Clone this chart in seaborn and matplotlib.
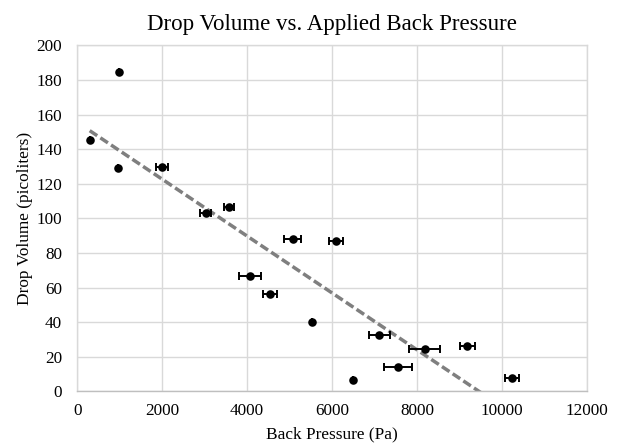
import numpy as np
import pandas as pd
import seaborn as sns
import matplotlib
matplotlib.use("Agg")
import matplotlib.pyplot as plt

# Data
back_pressure = [292, 974, 950, 2000, 3020, 3575, 4070, 4540, 5075, 5540,
                 6090, 6500, 7115, 7560, 8180, 9190, 10235]
drop_volume = [145.4, 184.6, 129.1, 129.8, 103.4, 106.6, 66.8, 56.1, 88.0, 39.9,
               86.9, 6.5, 32.5, 14.3, 24.8, 26.2, 7.9]
pressure_err = [0, 0, 0, 140, 140, 125, 250, 165, 205, 0,
                170, 0, 255, 325, 360, 175, 160]

df = pd.DataFrame({"pressure": back_pressure, "volume": drop_volume, "err": pressure_err})

sns.set_style("white")
plt.rcParams["font.family"] = ["Liberation Serif", "DejaVu Serif"]
plt.rcParams["text.color"] = "black"
plt.rcParams["axes.labelcolor"] = "black"

fig, ax = plt.subplots(figsize=(6.18, 4.46), dpi=100)
fig.subplots_adjust(left=0.1251, right=0.9494, top=0.8984, bottom=0.1222)

# Linear trendline (dashed gray)
sns.regplot(x="pressure", y="volume", data=df, scatter=False, ci=None, ax=ax,
            color="#7f7f7f", line_kws={"linestyle": (0, (2.6, 1.1)), "linewidth": 2.5})

# Horizontal error bars
ax.errorbar(df["pressure"], df["volume"], xerr=df["err"], fmt="none",
            ecolor="black", elinewidth=1.4, capsize=2.8, capthick=1.4, zorder=3)

# Points
sns.scatterplot(x="pressure", y="volume", data=df, ax=ax, color="black",
                s=38, edgecolor="black", linewidth=0, zorder=4)

ax.set_xlim(0, 12000)
ax.set_ylim(0, 200)
ax.set_xticks(np.arange(0, 12001, 2000))
ax.set_yticks(np.arange(0, 201, 20))

ax.grid(True, color="#d9d9d9", linewidth=1.0)
ax.set_axisbelow(True)
for side in ["top", "right", "left"]:
    ax.spines[side].set_color("#d9d9d9")
    ax.spines[side].set_linewidth(1.0)
ax.spines["bottom"].set_color("#bfbfbf")
ax.spines["bottom"].set_linewidth(1.0)

ax.tick_params(axis="both", length=0, labelsize=12.3, colors="black")
ax.tick_params(axis="x", pad=8)
ax.tick_params(axis="y", pad=11)

ax.set_title("Drop Volume vs. Applied Back Pressure", fontsize=16.5, pad=11, color="black")
ax.set_xlabel("Back Pressure (Pa)", fontsize=12.4, color="black")
ax.set_ylabel("Drop Volume (picoliters)", fontsize=12.4, color="black")
ax.xaxis.set_label_coords(0.5, -0.0997)
ax.yaxis.set_label_coords(-0.087, 0.5)

plt.savefig("out.png", dpi=100)
